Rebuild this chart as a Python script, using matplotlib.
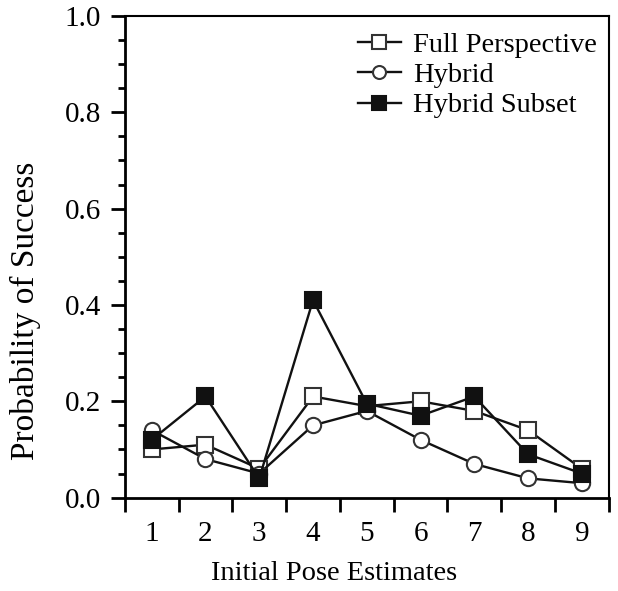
import matplotlib
matplotlib.use("Agg")
import matplotlib.pyplot as plt
from matplotlib.ticker import MultipleLocator, FixedLocator, NullFormatter, FixedFormatter, FormatStrFormatter

estimates = [1, 2, 3, 4, 5, 6, 7, 8, 9]
full_perspective = [0.10, 0.11, 0.06, 0.21, 0.19, 0.20, 0.18, 0.14, 0.06]
hybrid = [0.14, 0.08, 0.05, 0.15, 0.18, 0.12, 0.07, 0.04, 0.03]
hybrid_subset = [0.12, 0.21, 0.04, 0.41, 0.195, 0.17, 0.21, 0.09, 0.05]

plt.rcParams['font.family'] = ['Liberation Serif', 'DejaVu Serif']

fig = plt.figure(figsize=(6.18, 5.91), dpi=100)
ax = fig.add_axes([0.202, 0.158, 0.783, 0.815])

ax.plot(estimates, full_perspective, color='#111111', lw=1.7, marker='s', ms=11.5,
        mfc='white', mec='#333333', mew=1.5, label='Full Perspective', zorder=3)
ax.plot(estimates, hybrid, color='#111111', lw=1.7, marker='o', ms=11,
        mfc='white', mec='#333333', mew=1.5, label='Hybrid', zorder=3)
ax.plot(estimates, hybrid_subset, color='#111111', lw=1.7, marker='s', ms=12,
        mfc='#111111', mec='#111111', mew=1.5, label='Hybrid Subset', zorder=4)

ax.set_xlim(0.5, 9.5)
ax.set_ylim(0.0, 1.0)

# x: ticks at category boundaries, labels centred on categories
ax.xaxis.set_major_locator(FixedLocator([i + 0.5 for i in range(0, 10)]))
ax.xaxis.set_major_formatter(NullFormatter())
ax.xaxis.set_minor_locator(FixedLocator(estimates))
ax.xaxis.set_minor_formatter(FixedFormatter([str(e) for e in estimates]))
ax.tick_params(axis='x', which='major', direction='out', length=10, width=2)
ax.tick_params(axis='x', which='minor', length=0, pad=17, labelsize=21)

ax.yaxis.set_major_locator(MultipleLocator(0.2))
ax.yaxis.set_minor_locator(MultipleLocator(0.05))
ax.yaxis.set_major_formatter(FormatStrFormatter('%.1f'))
ax.tick_params(axis='y', which='major', direction='out', length=10, width=2,
               labelsize=21, pad=7)
ax.tick_params(axis='y', which='minor', direction='out', length=5, width=2)

for side, sp in ax.spines.items():
    sp.set_linewidth(2 if side in ('left', 'bottom') else 1.5)

ax.set_xlabel('Initial Pose Estimates', fontsize=20.5)
ax.set_ylabel('Probability of Success', fontsize=24)
ax.xaxis.set_label_coords(0.432, -0.158)
ax.xaxis.label.set_verticalalignment('center')
ax.yaxis.set_label_coords(-0.205, 0.388)
ax.yaxis.label.set_verticalalignment('center')

ax.legend(loc='upper right', frameon=False, fontsize=20.5, handlelength=1.5,
          handletextpad=0.45, labelspacing=0.15, borderaxespad=0.0,
          bbox_to_anchor=(1.0, 0.99), markerscale=0.85)

fig.savefig('out.png', dpi=100)
